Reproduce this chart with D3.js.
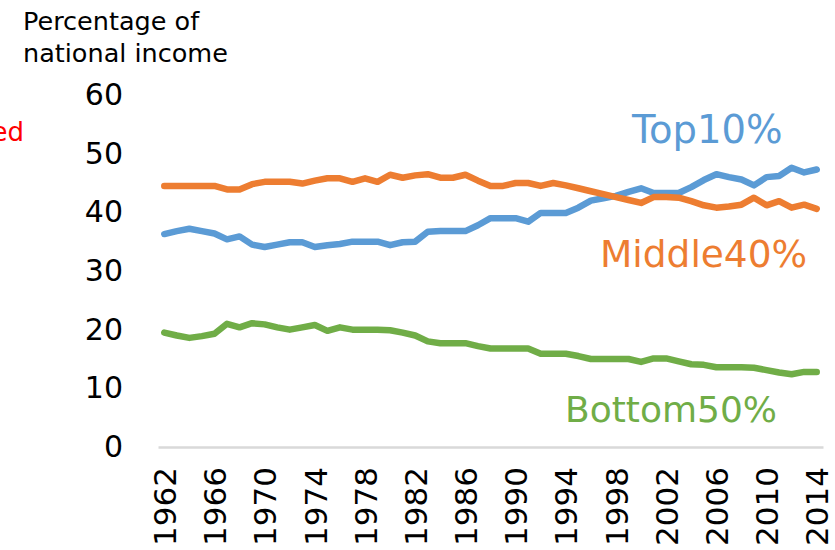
<!DOCTYPE html>
<html>
<head>
<meta charset="utf-8">
<script src="https://cdn.jsdelivr.net/npm/d3@7"></script>
<style>
  body { margin: 0; background: #fff; }
  svg { display: block; font-family: "DejaVu Sans", Verdana, sans-serif; }
</style>
</head>
<body>
<svg id="canvas"></svg>
<script>
const width = 835;
const height = 550;

const years = d3.range(1962, 2015);
const yearTicks = d3.range(1962, 2015, 4);
const valueTicks = [0, 10, 20, 30, 40, 50, 60];

const top10 = [36.3, 36.8, 37.2, 36.8, 36.4, 35.4, 35.9, 34.5, 34.1, 34.5,
               34.9, 34.9, 34.1, 34.4, 34.6, 35.0, 35.0, 35.0, 34.4, 34.9,
               35.0, 36.7, 36.8, 36.8, 36.8, 37.8, 39.0, 39.0, 39.0, 38.4,
               39.9, 39.9, 39.9, 40.8, 42.0, 42.4, 42.8, 43.5, 44.1, 43.3,
               43.3, 43.3, 44.3, 45.5, 46.5, 46.0, 45.6, 44.6, 46.0, 46.2,
               47.6, 46.8, 47.3];
const middle40 = [44.5, 44.5, 44.5, 44.5, 44.5, 43.9, 43.9, 44.8, 45.2, 45.2,
                  45.2, 44.9, 45.4, 45.8, 45.8, 45.2, 45.8, 45.2, 46.4, 45.9,
                  46.3, 46.5, 45.9, 45.9, 46.4, 45.4, 44.5, 44.5, 45.0, 45.0,
                  44.5, 45.0, 44.6, 44.1, 43.6, 43.1, 42.6, 42.1, 41.6, 42.6,
                  42.6, 42.5, 41.9, 41.2, 40.8, 41.0, 41.3, 42.5, 41.2, 41.9,
                  40.8, 41.3, 40.6];
const bottom50 = [19.5, 19.0, 18.6, 18.9, 19.3, 21.0, 20.4, 21.1, 20.9, 20.4,
                  20.0, 20.4, 20.8, 19.8, 20.4, 20.0, 20.0, 20.0, 19.9, 19.5,
                  19.0, 18.0, 17.7, 17.7, 17.7, 17.2, 16.8, 16.8, 16.8, 16.8,
                  15.9, 15.9, 15.9, 15.5, 15.0, 15.0, 15.0, 15.0, 14.5, 15.1,
                  15.1, 14.6, 14.1, 14.0, 13.6, 13.6, 13.6, 13.5, 13.1, 12.7,
                  12.4, 12.8, 12.8];

const series = [
  { name: "Top10%", values: top10, color: "#5B9BD5", lx: 632, ly: 143, fs: 38.5 },
  { name: "Middle40%", values: middle40, color: "#ED7D31", lx: 600, ly: 267, fs: 37.5 },
  { name: "Bottom50%", values: bottom50, color: "#70AD47", lx: 565, ly: 422, fs: 36 }
];

const svg = d3.select("#canvas")
              .attr("width", width)
              .attr("height", height);

const xScale = d3.scalePoint()
                 .domain(years)
                 .range([158, 823])
                 .padding(0.5);

const yScale = d3.scaleLinear()
                 .domain([0, 60])
                 .range([447, 95]);

// y axis labels only
const yAxis = d3.axisLeft(yScale).tickValues(valueTicks).tickSize(0).tickPadding(0);
const yG = svg.append("g")
              .attr("transform", "translate(123,0)")
              .call(yAxis);
yG.select(".domain").remove();
yG.selectAll("text")
  .attr("font-family", "DejaVu Sans, Verdana, sans-serif")
  .attr("font-size", 30)
  .attr("fill", "#000");

// x axis
const xAxis = d3.axisBottom(xScale).tickValues(yearTicks).tickSize(0);
const xG = svg.append("g")
              .attr("transform", `translate(0, ${yScale(0)})`)
              .call(xAxis);
xG.select(".domain")
  .attr("stroke", "#D9D9D9")
  .attr("stroke-width", 2.5);
xG.selectAll("text")
  .attr("font-family", "DejaVu Sans, Verdana, sans-serif")
  .attr("font-size", 31)
  .attr("fill", "#000")
  .attr("text-anchor", "end")
  .attr("transform", "rotate(-90)")
  .attr("x", -20)
  .attr("y", 0)
  .attr("dy", "0.36em");

// lines
const line = d3.line()
               .x((d, i) => xScale(years[i]))
               .y(d => yScale(d));

svg.selectAll(".series")
   .data(series)
   .enter()
   .append("path")
   .attr("class", "series")
   .attr("d", d => line(d.values))
   .attr("fill", "none")
   .attr("stroke", d => d.color)
   .attr("stroke-width", 6.5)
   .attr("stroke-linejoin", "round")
   .attr("stroke-linecap", "round");

// series labels
svg.selectAll(".label")
   .data(series)
   .enter()
   .append("text")
   .attr("class", "label")
   .attr("x", d => d.lx)
   .attr("y", d => d.ly)
   .attr("font-size", d => d.fs)
   .attr("fill", d => d.color)
   .text(d => d.name);

// axis title
svg.append("text")
   .attr("x", 23)
   .attr("y", 30)
   .attr("font-size", 25.5)
   .attr("fill", "#000")
   .text("Percentage of");
svg.append("text")
   .attr("x", 23)
   .attr("y", 62)
   .attr("font-size", 25.5)
   .attr("fill", "#000")
   .text("national income");

// red note, clipped at the left edge as in the original
svg.append("text")
   .attr("x", 24)
   .attr("y", 141)
   .attr("text-anchor", "end")
   .attr("font-size", 26)
   .attr("fill", "#FF0000")
   .text("ed");
</script>
</body>
</html>
